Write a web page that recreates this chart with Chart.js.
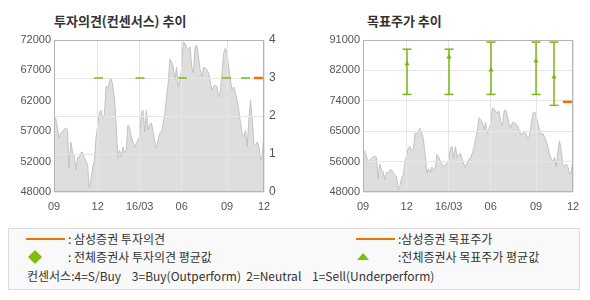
<!DOCTYPE html>
<html>
<head>
<meta charset="utf-8">
<script src="https://cdn.jsdelivr.net/npm/chart.js"></script>
<style>
  body { margin: 0; width: 590px; height: 300px; background: #fff; position: relative; overflow: hidden; font-family: "Noto Sans CJK KR", sans-serif; color: #333; }
  .abs { position: absolute; }
  .title { font-size: 13px; font-weight: bold; line-height: 16px; top: 13px; color: #333; }
  .lg { font-size: 12px; line-height: 14px; white-space: pre; color: #333; }
</style>
</head>
<body>
<div class="abs title" style="left:54px">투자의견(컨센서스) 추이</div>
<div class="abs title" style="left:367px">목표주가 추이</div>

<canvas id="opinionChart" class="abs" width="295" height="220" style="left:0;top:0"></canvas>
<canvas id="targetChart" class="abs" width="295" height="220" style="left:295px;top:0"></canvas>

<div class="abs" style="left:8px;top:228px;width:570px;height:60px;border:1px solid #dcdcdc;background:#f9f9f9"></div>
<div class="abs" style="left:26px;top:238px;width:39px;height:2px;background:#ee7203"></div>
<div class="abs lg" style="left:68px;top:232px">: 삼성증권 투자의견</div>
<div class="abs" style="left:30px;top:252px;width:10px;height:10px;background:#80bd0e;transform:rotate(45deg)"></div>
<div class="abs lg" style="left:68px;top:250px">: 전체증권사 투자의견 평균값</div>
<div class="abs lg" style="left:27px;top:269px">컨센서스:4=S/Buy    3=Buy(Outperform)  2=Neutral    1=Sell(Underperform)</div>
<div class="abs" style="left:356px;top:238px;width:39px;height:2px;background:#ee7203"></div>
<div class="abs lg" style="left:398px;top:232px">:삼성증권 목표주가</div>
<div class="abs" style="left:357px;top:253px;width:0;height:0;border-left:6.5px solid transparent;border-right:6.5px solid transparent;border-bottom:7px solid #80bd0e"></div>
<div class="abs lg" style="left:398px;top:250px">:전체증권사 목표주가 평균값</div>

<script>
// stock price, one value per ~1.7px of the time axis (2015-09 .. 2016-12)
const priceData = [
  59200, 59700, 58100, 56500, 57200, 57500, 57900, 58100, 57800, 51800,
  55900, 54300, 53700, 51500, 53500, 53400, 54200, 54300, 53400, 52900,
  52300, 48600, 49900, 51800, 52900, 56500, 58600, 60500, 60900, 59700,
  60200, 64700, 64400, 65400, 66000, 64700, 62800, 58600, 53400, 54600,
  53500, 55100, 54200, 54600, 58600, 58100, 56700, 55900, 55100, 55700,
  56200, 56700, 60500, 60900, 57500, 60900, 57800, 58600, 58900, 57500,
  55900, 54900, 56200, 57300, 57500, 58900, 60500, 63000, 65200, 69000,
  68500, 67700, 65700, 67700, 64600, 65700, 67700, 71700, 71500, 70700,
  70400, 70900, 67700, 66800, 70900, 71200, 69300, 67300, 66200, 67700,
  67600, 67300, 66800, 65400, 64100, 64600, 64900, 64600, 63000, 63800,
  66800, 69900, 70700, 69900, 67700, 65700, 64100, 64600, 63600, 62500,
  60900, 58900, 57300, 56700, 57800, 55100, 59400, 62500, 59400, 55700,
  55400, 55900, 55100, 53100, 53800, 57500
];
const xTickPos = [0, 26, 51, 76, 103, 125];
const xTickLabels = ['09', '12', '16/03', '06', '09', '12'];

const leftTickVals = [48000, 52800, 57600, 62400, 67200, 72000];
const leftTickLabels = ['48000', '52000', '57000', '62000', '67000', '72000'];
const rightTickVals = [48000, 56600, 65200, 73800, 82400, 91000];
const rightTickLabels = ['48000', '56000', '65000', '74000', '82000', '91000'];

// consensus opinion (all brokers average) and Samsung's own opinion
const opinionX = [26.5, 51.2, 76.5, 102.7, 114];
const opinionAvg = [3, 3, 3, 3, 3];
const samsungOpinionX = [121.7];
const samsungOpinion = [3];

// target price range (high / low) and average of all brokers
const targetX = [26.2, 51.2, 76.2, 103, 113.7];
const targetHigh = [88400, 88400, 90400, 90400, 90400];
const targetLow = [75600, 75600, 75600, 75600, 72500];
const targetAvg = [84300, 86200, 82500, 85100, 80500];
const samsungTargetX = [121.7];
const samsungTarget = [73500];

const green = '#7cb80e';
const orange = '#ee7203';
const gridColor = '#e6e6e6';
const tickFont = { family: '"Liberation Sans", Arial, sans-serif', size: 11 };

// gridlines show through the grey price area in the original
const gridOverFill = {
  id: 'gridOverFill',
  afterDatasetDraw(chart, args) {
    if (args.index !== 0) return;
    Object.values(chart.scales).forEach(s => {
      if (s.options.grid.display) s.drawGrid(chart.chartArea);
    });
  }
};

const frame = {
  id: 'frame',
  afterDatasetsDraw(chart) {
    const { ctx, chartArea: a } = chart;
    ctx.save();
    ctx.strokeStyle = '#b4b4b4';
    ctx.lineWidth = 1;
    ctx.strokeRect(a.left + 0.5, a.top + 0.5, a.right - a.left - 1, a.bottom - a.top - 1);
    ctx.restore();
  }
};

function xAxis() {
  return {
    type: 'linear', min: 0, max: 125,
    afterBuildTicks: s => { s.ticks = xTickPos.map(v => ({ value: v })); },
    afterFit: s => { s.height = 28; },
    grid: { color: gridColor, drawTicks: false },
    border: { display: false },
    ticks: { autoSkip: false, maxRotation: 0, padding: 8, font: tickFont, color: '#555',
      callback: (v, i) => xTickLabels[i] }
  };
}

// price area is drawn first (highest order), marks go on top of it
const priceSet = (axis) => ({
  data: priceData.map((v, i) => ({ x: i, y: v })),
  yAxisID: axis,
  order: 10,
  borderColor: '#c2c2c2',
  borderWidth: 1,
  backgroundColor: '#dedede',
  fill: 'start',
  pointRadius: 0,
  tension: 0
});

const opinionChart = document.getElementById('opinionChart');

new Chart(opinionChart, {
  type: 'line',
  data: {
    datasets: [
      priceSet('y'),
      {
        data: opinionX.map((x, i) => ({ x: x, y: opinionAvg[i] })),
        yAxisID: 'y1',
        order: 1,
        showLine: false,
        pointStyle: 'line',
        pointRadius: 4.5,
        pointBorderWidth: 1.5,
        borderColor: green,
        pointBorderColor: green
      },
      {
        data: samsungOpinionX.map((x, i) => ({ x: x, y: samsungOpinion[i] })),
        yAxisID: 'y1',
        order: 0,
        showLine: false,
        pointStyle: 'line',
        pointRadius: 4.5,
        pointBorderWidth: 2.5,
        borderColor: orange,
        pointBorderColor: orange
      }
    ]
  },
  options: {
    responsive: false,
    animation: false,
    devicePixelRatio: 1,
    layout: { padding: { top: 40, left: 0, right: 0, bottom: 0 } },
    plugins: { legend: { display: false }, tooltip: { enabled: false } },
    scales: {
      x: xAxis(),
      y: {
        position: 'left', min: 48000, max: 72000,
        afterBuildTicks: s => { s.ticks = leftTickVals.map(v => ({ value: v })); },
        afterFit: s => { s.width = 54; },
        grid: { display: false, drawTicks: false },
        border: { display: false },
        ticks: { padding: 3, font: tickFont, color: '#555', callback: (v, i) => leftTickLabels[i] }
      },
      y1: {
        position: 'right', min: 0, max: 4,
        afterFit: s => { s.width = 31; },
        grid: { color: gridColor, drawTicks: false },
        border: { display: false },
        ticks: { stepSize: 1, padding: 5, font: { family: tickFont.family, size: 12 }, color: '#555' }
      }
    }
  },
  plugins: [gridOverFill, frame]
});

const targetChart = document.getElementById('targetChart');

new Chart(targetChart, {
  type: 'line',
  data: {
    datasets: [
      priceSet('y'),
      {
        data: targetX.flatMap((x, i) => [{ x: x, y: targetLow[i] }, { x: x, y: targetHigh[i] }, { x: x, y: null }]),
        order: 2,
        spanGaps: false,
        borderColor: green,
        borderWidth: 1.5,
        pointStyle: 'line',
        pointRadius: 4.5,
        pointBorderWidth: 1.5,
        pointBorderColor: green
      },
      {
        data: targetX.map((x, i) => ({ x: x, y: targetAvg[i] })),
        order: 1,
        showLine: false,
        pointStyle: 'triangle',
        pointRadius: 3,
        pointBorderWidth: 0,
        pointBackgroundColor: green,
        pointBorderColor: green
      },
      {
        data: samsungTargetX.map((x, i) => ({ x: x, y: samsungTarget[i] })),
        order: 0,
        showLine: false,
        pointStyle: 'line',
        pointRadius: 4.5,
        pointBorderWidth: 2.5,
        borderColor: orange,
        pointBorderColor: orange
      }
    ]
  },
  options: {
    responsive: false,
    animation: false,
    devicePixelRatio: 1,
    layout: { padding: { top: 40, left: 0, right: 17, bottom: 0 } },
    plugins: { legend: { display: false }, tooltip: { enabled: false } },
    scales: {
      x: xAxis(),
      y: {
        position: 'left', min: 48000, max: 91000,
        afterBuildTicks: s => { s.ticks = rightTickVals.map(v => ({ value: v })); },
        afterFit: s => { s.width = 68; },
        grid: { color: gridColor, drawTicks: false },
        border: { display: false },
        ticks: { padding: 3, font: tickFont, color: '#555', callback: (v, i) => rightTickLabels[i] }
      }
    }
  },
  plugins: [gridOverFill, frame]
});
</script>
</body>
</html>
